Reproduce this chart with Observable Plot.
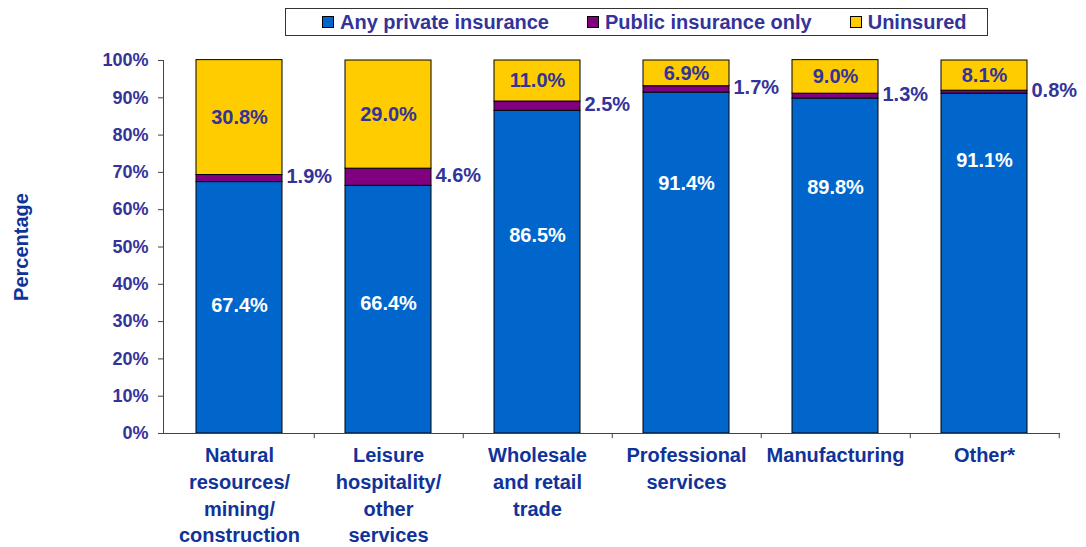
<!DOCTYPE html>
<html><head><meta charset="utf-8">
<script src="https://cdn.jsdelivr.net/npm/d3@7"></script>
<script src="https://cdn.jsdelivr.net/npm/@observablehq/plot@0.6"></script>
<style>
body{margin:0;background:#fff;font-family:"Liberation Sans",Arial,sans-serif;overflow:hidden}
#legend{position:relative;height:45px}
#legend .box{position:absolute;left:285px;top:8px;width:703px;height:28px;border:1px solid #333;box-sizing:border-box;display:flex;align-items:center;justify-content:flex-start;gap:38px;padding-left:36px}
.item{display:flex;align-items:center;gap:6px;font-weight:bold;font-size:20px;color:#333399;white-space:nowrap}
.sw{width:12px;height:12px;border:1px solid #000;box-sizing:border-box}
</style></head><body>
<div id="legend"><div class="box"></div></div>
<div id="chart"></div>
<script>
const categories = [
  "Natural\nresources/\nmining/\nconstruction",
  "Leisure\nhospitality/\nother\nservices",
  "Wholesale\nand retail\ntrade",
  "Professional\nservices",
  "Manufacturing",
  "Other*"
];
const series = ["Any private insurance", "Public insurance only", "Uninsured"];
const colors = ["#0066CC", "#800080", "#FFCC00"];
const privateIns = [67.4, 66.4, 86.5, 91.4, 89.8, 91.1];
const publicOnly = [1.9, 4.6, 2.5, 1.7, 1.3, 0.8];
const uninsured = [30.8, 29.0, 11.0, 6.9, 9.0, 8.1];
// where the private-insurance value labels sit on the percentage scale
const privateLabelAt = [34.3, 34.9, 53.1, 67.0, 66.0, 73.2];
const yTicks = [0, 10, 20, 30, 40, 50, 60, 70, 80, 90, 100];

const seriesValues = [privateIns, publicOnly, uninsured];
const rows = [];
categories.forEach((cat, i) => {
  let lo = 0;
  series.forEach((s, j) => {
    const v = seriesValues[j][i];
    rows.push({cat, series: s, value: v, lo, hi: lo + v,
      mid: j === 0 ? privateLabelAt[i] : lo + v / 2});
    lo += v;
  });
});

// legend
const box = document.querySelector("#legend .box");
series.forEach((s, j) => {
  const it = document.createElement("div");
  it.className = "item";
  const sw = document.createElement("span");
  sw.className = "sw";
  sw.style.background = colors[j];
  const t = document.createElement("span");
  t.textContent = s;
  it.append(sw, t);
  box.append(it);
});

const step = 149.5;
const fmt = d => d.toFixed(1) + "%";

const chart = Plot.plot({
  width: 1086,
  height: 502,
  marginTop: 15,
  marginBottom: 114,
  marginLeft: 163,
  marginRight: 26,
  style: {fontFamily: "'Liberation Sans', Arial, sans-serif", overflow: "visible", background: "#fff"},
  x: {domain: categories, paddingInner: 0.42, paddingOuter: 0.21},
  y: {domain: [0, 100]},
  color: {domain: series, range: colors},
  marks: [
    Plot.barY(rows, {x: "cat", y1: "lo", y2: "hi", fill: "series", stroke: "#000", strokeWidth: 1}),
    Plot.ruleY([0], {stroke: "#444"}),
    Plot.frame({anchor: "left", stroke: "#444"}),
    Plot.ruleX(categories, {x: d => d, dx: step / 2, y1: 0, y2: -1.4, stroke: "#444"}),
    Plot.axisY({ticks: yTicks, tickFormat: d => d + "%", tickSize: 5, tickPadding: 10, fontSize: 18, fontWeight: "bold", fill: "#333399", stroke: "#444", label: null}),
    Plot.axisX({tickSize: 0, tickPadding: 10, fontSize: 20, fontWeight: "bold", fill: "#103399", lineHeight: 1.33, label: null}),
    Plot.text(rows.filter(d => d.series !== series[1]), {
      x: "cat", y: "mid", text: d => fmt(d.value),
      fill: d => d.series === series[0] ? "#fff" : "#333399",
      fontSize: 20, fontWeight: "bold"
    }),
    Plot.text(rows.filter(d => d.series === series[1]), {
      x: "cat", y: "mid", text: d => fmt(d.value), dx: 47, dy: -2, textAnchor: "start",
      fill: "#333399", fontSize: 20, fontWeight: "bold"
    }),
    Plot.text(["Percentage"], {text: d => d, frameAnchor: "left", textAnchor: "middle", rotate: -90, dx: -142, fontSize: 20, fontWeight: "bold", fill: "#103399"})
  ]
});
document.getElementById("chart").append(chart);
</script>
</body></html>
